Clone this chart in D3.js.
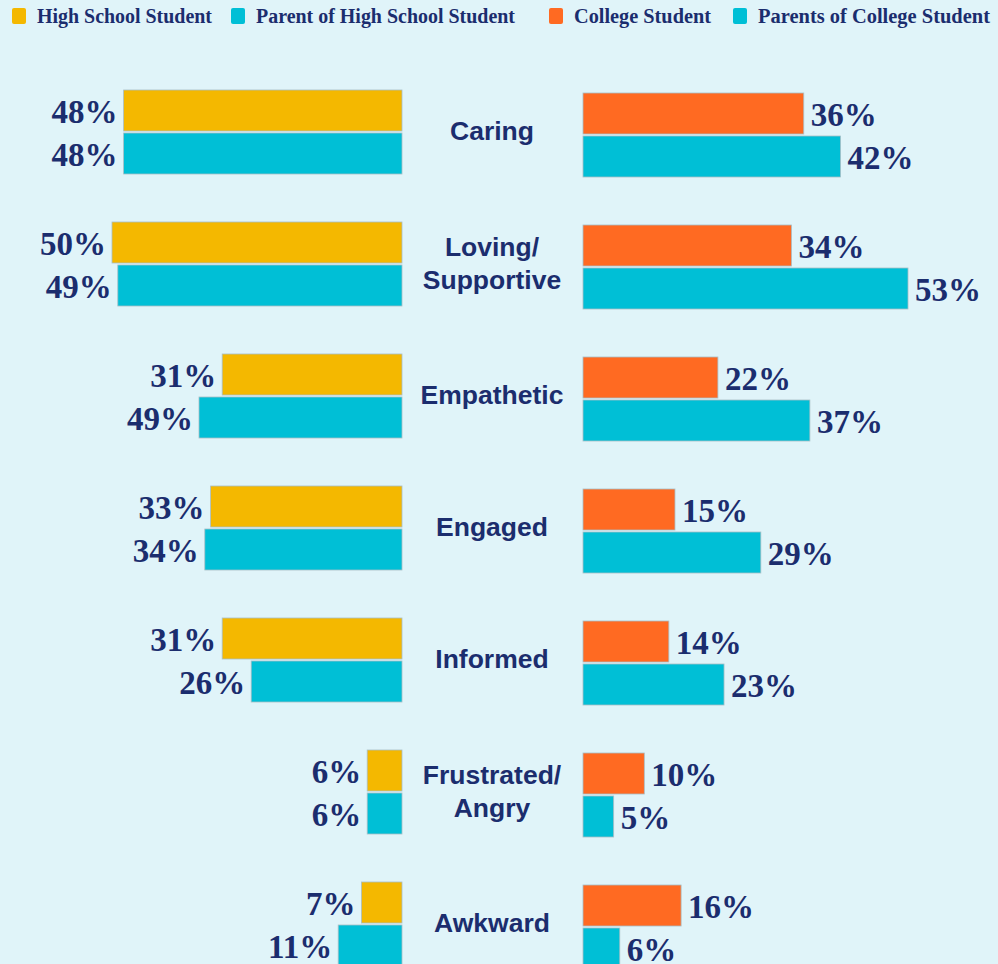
<!DOCTYPE html>
<html>
<head>
<meta charset="utf-8">
<script src="https://cdn.jsdelivr.net/npm/d3@7"></script>
<style>
  html, body { margin: 0; padding: 0; background: #e0f4f9; }
  svg { display: block; }
</style>
</head>
<body>
<script>
// categories (multi-line labels split on "|")
const categories = ['Caring', 'Loving/|Supportive', 'Empathetic', 'Engaged', 'Informed', 'Frustrated/|Angry', 'Awkward'];

// high school side
const hsStudent = [48, 50, 31, 33, 31, 6, 7];
const hsParentLabel = [48, 49, 49, 34, 26, 6, 11];
// bar lengths as drawn in the source (the Empathetic parent bar is drawn shorter than its label)
const hsParentBar = [48, 49, 35, 34, 26, 6, 11];

// college side
const colStudent = [36, 34, 22, 15, 14, 10, 16];
const colParent = [42, 53, 37, 29, 23, 5, 6];

const legendNames = ['High School Student', 'Parent of High School Student', 'College Student', 'Parents of College Student'];
const legendColors = ['#f4b800', '#00bfd6', '#ff6a22', '#00bfd6'];

const W = 998, H = 964;
const navy = '#1b2d6e';
const yellow = '#f4b800', teal = '#00bfd6', orange = '#ff6a22';

const svg = d3.select('body').append('svg')
  .attr('width', W)
  .attr('height', H)

svg.append('rect').attr('width', W).attr('height', H).attr('fill', '#e0f4f9')

// legend
const legendX = [12, 231, 549, 733];
const legendW = [175, 259, 137, 232];
const legend = svg.append('g').selectAll('g')
  .data(legendNames)
  .enter()
  .append('g')
  .attr('transform', (d, i) => `translate(${legendX[i]},0)`)

legend.append('rect')
  .attr('x', 0).attr('y', 8)
  .attr('width', 14).attr('height', 16)
  .attr('rx', 2)
  .attr('fill', (d, i) => legendColors[i])

legend.append('text')
  .attr('x', 25).attr('y', 23)
  .attr('textLength', (d, i) => legendW[i])
  .attr('lengthAdjust', 'spacingAndGlyphs')
  .style('font-family', '"Liberation Serif", serif')
  .style('font-weight', 'bold')
  .style('font-size', '20px')
  .attr('fill', navy)
  .text(d => d)

// scales
const y = d3.scaleBand()
  .domain(d3.range(categories.length))
  .range([90, 90 + 132 * categories.length])
  .paddingInner(0)

const barH = 41, gap = 2, rightShift = 3;

const xLeft = d3.scaleLinear().domain([0, 50]).range([402, 112])
const xRight = d3.scaleLinear().domain([0, 53]).range([583, 908])

const valueFont = g => g
  .style('font-family', '"Liberation Serif", serif')
  .style('font-weight', 'bold')
  .style('font-size', '33px')
  .attr('fill', navy)
  .attr('dominant-baseline', 'central')

function leftBars(values, labels, offset, color) {
  const g = svg.append('g')
  g.selectAll('rect')
    .data(values)
    .enter()
    .append('rect')
    .attr('x', d => xLeft(d))
    .attr('y', (d, i) => y(i) + offset)
    .attr('width', d => xLeft(0) - xLeft(d))
    .attr('height', barH)
    .attr('fill', color)
    .attr('stroke', '#a9bfc6')
    .attr('stroke-width', 0.8)
  g.selectAll('text')
    .data(values)
    .enter()
    .append('text')
    .attr('x', d => xLeft(d) - 6)
    .attr('y', (d, i) => y(i) + offset + barH / 2 + 1)
    .attr('text-anchor', 'end')
    .call(valueFont)
    .text((d, i) => labels[i] + '%')
}

function rightBars(values, offset, color) {
  const g = svg.append('g')
  g.selectAll('rect')
    .data(values)
    .enter()
    .append('rect')
    .attr('x', xRight(0))
    .attr('y', (d, i) => y(i) + offset + rightShift)
    .attr('width', d => xRight(d) - xRight(0))
    .attr('height', barH)
    .attr('fill', color)
    .attr('stroke', '#a9bfc6')
    .attr('stroke-width', 0.8)
  g.selectAll('text')
    .data(values)
    .enter()
    .append('text')
    .attr('x', d => xRight(d) + 7)
    .attr('y', (d, i) => y(i) + offset + rightShift + barH / 2 + 1)
    .call(valueFont)
    .text(d => d + '%')
}

leftBars(hsStudent, hsStudent, 0, yellow)
leftBars(hsParentBar, hsParentLabel, barH + gap, teal)
rightBars(colStudent, 0, orange)
rightBars(colParent, barH + gap, teal)

// category labels
const cat = svg.append('g').selectAll('text')
  .data(categories)
  .enter()
  .append('text')
  .attr('text-anchor', 'middle')
  .style('font-family', '"Liberation Sans", Arial, sans-serif')
  .style('font-weight', 'bold')
  .style('font-size', '26.5px')
  .attr('fill', navy)
  .attr('dominant-baseline', 'central')

cat.each(function(d, i) {
  const lines = d.split('|');
  const cy = y(i) + barH;
  d3.select(this).selectAll('tspan')
    .data(lines)
    .enter()
    .append('tspan')
    .attr('x', 492)
    .attr('y', (l, j) => cy + (j - (lines.length - 1) / 2) * 33)
    .text(l => l)
})
</script>
</body>
</html>
